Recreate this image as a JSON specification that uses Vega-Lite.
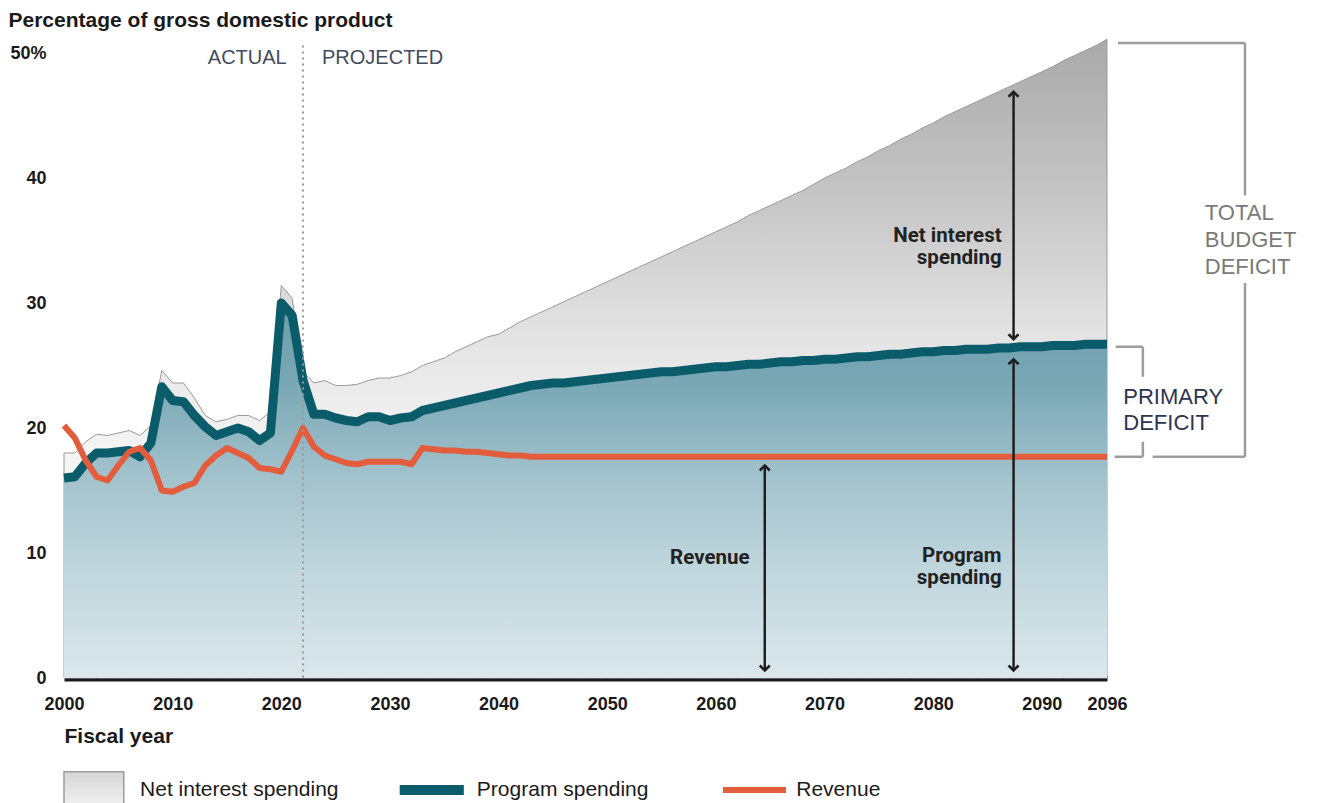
{
  "$schema": "https://vega.github.io/schema/vega-lite/v6.json",
  "autosize": {"type": "none"},
  "padding": {"left": 64, "top": 53, "right": 210, "bottom": 125},
  "width": 1043,
  "height": 625,
  "background": "white",
  "config": {
    "view": {"stroke": null},
    "axis": {"grid": false, "ticks": false},
    "font": "Liberation Sans"
  },
  "datasets": {
    "series": [
      {"x": 2000, "total": 18.0, "program": 16.0, "revenue": 20.2},
      {"x": 2001, "total": 18.0, "program": 16.1, "revenue": 19.2},
      {"x": 2002, "total": 18.9, "program": 17.2, "revenue": 17.4},
      {"x": 2003, "total": 19.5, "program": 18.0, "revenue": 16.1},
      {"x": 2004, "total": 19.4, "program": 18.0, "revenue": 15.8},
      {"x": 2005, "total": 19.6, "program": 18.1, "revenue": 17.0},
      {"x": 2006, "total": 19.8, "program": 18.2, "revenue": 18.1},
      {"x": 2007, "total": 19.4, "program": 17.7, "revenue": 18.4},
      {"x": 2008, "total": 20.2, "program": 18.8, "revenue": 17.4},
      {"x": 2009, "total": 24.6, "program": 23.3, "revenue": 15.0},
      {"x": 2010, "total": 23.6, "program": 22.2, "revenue": 14.9},
      {"x": 2011, "total": 23.6, "program": 22.1, "revenue": 15.3},
      {"x": 2012, "total": 22.4, "program": 21.0, "revenue": 15.6},
      {"x": 2013, "total": 21.0, "program": 20.1, "revenue": 17.0},
      {"x": 2014, "total": 20.5, "program": 19.4, "revenue": 17.8},
      {"x": 2015, "total": 20.7, "program": 19.7, "revenue": 18.4},
      {"x": 2016, "total": 21.0, "program": 20.0, "revenue": 18.0},
      {"x": 2017, "total": 21.0, "program": 19.7, "revenue": 17.6},
      {"x": 2018, "total": 20.6, "program": 19.0, "revenue": 16.8},
      {"x": 2019, "total": 21.3, "program": 19.6, "revenue": 16.7},
      {"x": 2020, "total": 31.4, "program": 30.0, "revenue": 16.5},
      {"x": 2021, "total": 30.4, "program": 29.0, "revenue": 18.2},
      {"x": 2022, "total": 24.5, "program": 23.8, "revenue": 20.0},
      {"x": 2023, "total": 23.6, "program": 21.1, "revenue": 18.5},
      {"x": 2024, "total": 23.8, "program": 21.1, "revenue": 17.8},
      {"x": 2025, "total": 23.4, "program": 20.8, "revenue": 17.5},
      {"x": 2026, "total": 23.4, "program": 20.6, "revenue": 17.2},
      {"x": 2027, "total": 23.5, "program": 20.5, "revenue": 17.1},
      {"x": 2028, "total": 23.8, "program": 20.9, "revenue": 17.3},
      {"x": 2029, "total": 24.0, "program": 20.9, "revenue": 17.3},
      {"x": 2030, "total": 24.0, "program": 20.6, "revenue": 17.3},
      {"x": 2031, "total": 24.2, "program": 20.8, "revenue": 17.3},
      {"x": 2032, "total": 24.5, "program": 20.9, "revenue": 17.1},
      {"x": 2033, "total": 25.0, "program": 21.4, "revenue": 18.4},
      {"x": 2034, "total": 25.3, "program": 21.6, "revenue": 18.3},
      {"x": 2035, "total": 25.6, "program": 21.8, "revenue": 18.2},
      {"x": 2036, "total": 26.1, "program": 22.0, "revenue": 18.2},
      {"x": 2037, "total": 26.5, "program": 22.2, "revenue": 18.1},
      {"x": 2038, "total": 26.9, "program": 22.4, "revenue": 18.1},
      {"x": 2039, "total": 27.3, "program": 22.6, "revenue": 18.0},
      {"x": 2040, "total": 27.5, "program": 22.8, "revenue": 17.9},
      {"x": 2041, "total": 28.0, "program": 23.0, "revenue": 17.8},
      {"x": 2042, "total": 28.5, "program": 23.2, "revenue": 17.8},
      {"x": 2043, "total": 28.9, "program": 23.4, "revenue": 17.7},
      {"x": 2044, "total": 29.3, "program": 23.5, "revenue": 17.7},
      {"x": 2045, "total": 29.7, "program": 23.6, "revenue": 17.7},
      {"x": 2046, "total": 30.1, "program": 23.6, "revenue": 17.7},
      {"x": 2047, "total": 30.5, "program": 23.7, "revenue": 17.7},
      {"x": 2048, "total": 30.9, "program": 23.8, "revenue": 17.7},
      {"x": 2049, "total": 31.3, "program": 23.9, "revenue": 17.7},
      {"x": 2050, "total": 31.7, "program": 24.0, "revenue": 17.7},
      {"x": 2051, "total": 32.1, "program": 24.1, "revenue": 17.7},
      {"x": 2052, "total": 32.5, "program": 24.2, "revenue": 17.7},
      {"x": 2053, "total": 32.9, "program": 24.3, "revenue": 17.7},
      {"x": 2054, "total": 33.3, "program": 24.4, "revenue": 17.7},
      {"x": 2055, "total": 33.7, "program": 24.5, "revenue": 17.7},
      {"x": 2056, "total": 34.1, "program": 24.5, "revenue": 17.7},
      {"x": 2057, "total": 34.5, "program": 24.6, "revenue": 17.7},
      {"x": 2058, "total": 34.9, "program": 24.7, "revenue": 17.7},
      {"x": 2059, "total": 35.3, "program": 24.8, "revenue": 17.7},
      {"x": 2060, "total": 35.7, "program": 24.9, "revenue": 17.7},
      {"x": 2061, "total": 36.1, "program": 24.9, "revenue": 17.7},
      {"x": 2062, "total": 36.5, "program": 25.0, "revenue": 17.7},
      {"x": 2063, "total": 37.0, "program": 25.1, "revenue": 17.7},
      {"x": 2064, "total": 37.4, "program": 25.1, "revenue": 17.7},
      {"x": 2065, "total": 37.8, "program": 25.2, "revenue": 17.7},
      {"x": 2066, "total": 38.2, "program": 25.3, "revenue": 17.7},
      {"x": 2067, "total": 38.6, "program": 25.3, "revenue": 17.7},
      {"x": 2068, "total": 39.0, "program": 25.4, "revenue": 17.7},
      {"x": 2069, "total": 39.5, "program": 25.4, "revenue": 17.7},
      {"x": 2070, "total": 40.0, "program": 25.5, "revenue": 17.7},
      {"x": 2071, "total": 40.4, "program": 25.5, "revenue": 17.7},
      {"x": 2072, "total": 40.8, "program": 25.6, "revenue": 17.7},
      {"x": 2073, "total": 41.3, "program": 25.7, "revenue": 17.7},
      {"x": 2074, "total": 41.7, "program": 25.7, "revenue": 17.7},
      {"x": 2075, "total": 42.2, "program": 25.8, "revenue": 17.7},
      {"x": 2076, "total": 42.6, "program": 25.9, "revenue": 17.7},
      {"x": 2077, "total": 43.1, "program": 25.9, "revenue": 17.7},
      {"x": 2078, "total": 43.5, "program": 26.0, "revenue": 17.7},
      {"x": 2079, "total": 44.0, "program": 26.1, "revenue": 17.7},
      {"x": 2080, "total": 44.4, "program": 26.1, "revenue": 17.7},
      {"x": 2081, "total": 44.9, "program": 26.2, "revenue": 17.7},
      {"x": 2082, "total": 45.3, "program": 26.2, "revenue": 17.7},
      {"x": 2083, "total": 45.7, "program": 26.3, "revenue": 17.7},
      {"x": 2084, "total": 46.1, "program": 26.3, "revenue": 17.7},
      {"x": 2085, "total": 46.5, "program": 26.3, "revenue": 17.7},
      {"x": 2086, "total": 46.9, "program": 26.4, "revenue": 17.7},
      {"x": 2087, "total": 47.3, "program": 26.4, "revenue": 17.7},
      {"x": 2088, "total": 47.7, "program": 26.5, "revenue": 17.7},
      {"x": 2089, "total": 48.1, "program": 26.5, "revenue": 17.7},
      {"x": 2090, "total": 48.5, "program": 26.5, "revenue": 17.7},
      {"x": 2091, "total": 48.9, "program": 26.6, "revenue": 17.7},
      {"x": 2092, "total": 49.4, "program": 26.6, "revenue": 17.7},
      {"x": 2093, "total": 49.8, "program": 26.6, "revenue": 17.7},
      {"x": 2094, "total": 50.2, "program": 26.7, "revenue": 17.7},
      {"x": 2095, "total": 50.6, "program": 26.7, "revenue": 17.7},
      {"x": 2096, "total": 51.1, "program": 26.7, "revenue": 17.7}
    ],
    "arrows": [
      {"x": 2064.5, "y": 17.0, "y2": 0.6},
      {"x": 2087.4, "y": 25.5, "y2": 0.6},
      {"x": 2087.4, "y": 46.9, "y2": 27.1}
    ],
    "heads": [
      {"x": 2064.5, "y": 17.0, "dir": "up"},
      {"x": 2064.5, "y": 0.6, "dir": "down"},
      {"x": 2087.4, "y": 25.5, "dir": "up"},
      {"x": 2087.4, "y": 0.6, "dir": "down"},
      {"x": 2087.4, "y": 46.9, "dir": "up"},
      {"x": 2087.4, "y": 27.1, "dir": "down"}
    ],
    "notes": [
      {"x": 2063.1, "y": 9.6, "label": ["Revenue"]},
      {"x": 2086.3, "y": 9.76, "label": ["Program", "spending"]},
      {"x": 2086.3, "y": 35.36, "label": ["Net interest", "spending"]}
    ],
    "brackets": [
      {"x": 2097.0, "x2": 2108.7, "y": 50.8, "y2": 50.8},
      {"x": 2108.7, "x2": 2108.7, "y": 50.8, "y2": 38.6},
      {"x": 2108.7, "x2": 2108.7, "y": 31.6, "y2": 17.7},
      {"x": 2108.7, "x2": 2100.2, "y": 17.7, "y2": 17.7},
      {"x": 2096.8, "x2": 2099.3, "y": 26.5, "y2": 26.5},
      {"x": 2099.3, "x2": 2099.3, "y": 26.5, "y2": 24.1},
      {"x": 2099.3, "x2": 2099.3, "y": 18.9, "y2": 17.7},
      {"x": 2099.3, "x2": 2096.7, "y": 17.7, "y2": 17.7}
    ],
    "bracketText": [
      {"x": 2105.0, "y": 37.2, "label": ["TOTAL", "BUDGET", "DEFICIT"], "grp": "total"},
      {"x": 2097.5, "y": 22.5, "label": ["PRIMARY", "DEFICIT"], "grp": "primary"}
    ],
    "period": [
      {"x": 2020.5, "y": 49.6, "label": "ACTUAL"},
      {"x": 2023.75, "y": 49.6, "label": "PROJECTED"}
    ],
    "divider": [{"x": 2022, "y": 50.6, "y2": 0}],
    "legendBox": [{"x": 2000.0, "x2": 2005.5, "y": -7.5, "y2": -10.6}],
    "legendLines": [
      {"x": 2030.9, "x2": 2036.8, "y": -8.96, "key": "Program spending"},
      {"x": 2060.65, "x2": 2066.45, "y": -8.96, "key": "Revenue"}
    ],
    "legendText": [
      {"x": 2007.0, "y": -8.96, "label": "Net interest spending"},
      {"x": 2038.0, "y": -8.96, "label": "Program spending"},
      {"x": 2067.4, "y": -8.96, "label": "Revenue"}
    ]
  },
  "encoding": {
    "x": {
      "field": "x", "type": "quantitative",
      "scale": {"domain": [2000, 2096], "nice": false, "zero": false},
      "axis": {
        "values": [2000, 2010, 2020, 2030, 2040, 2050, 2060, 2070, 2080, 2090, 2096],
        "format": "d",
        "labelFont": "Liberation Sans", "labelFontWeight": "bold", "labelFontSize": 18,
        "labelColor": "#1a1a1a", "labelPadding": 17, "labelOverlap": false, "labelFlush": false,
        "domain": true, "domainColor": "#1c1c1c", "domainWidth": 6,
        "title": "Fiscal year", "titleFont": "Liberation Sans", "titleFontWeight": "bold",
        "titleFontSize": 21, "titleColor": "#1a1a1a", "titleAlign": "left", "titleAnchor": "start",
        "titleBaseline": "alphabetic", "titleX": 0, "titleY": 64
      }
    },
    "y": {
      "field": "y", "type": "quantitative",
      "scale": {"domain": [0, 50], "nice": false},
      "axis": {
        "values": [0, 10, 20, 30, 40, 50],
        "labelExpr": "datum.value == 50 ? '50%' : datum.label",
        "labelFont": "Liberation Sans", "labelFontWeight": "bold", "labelFontSize": 18,
        "labelColor": "#1a1a1a", "labelPadding": 18, "labelFlush": false, "labelOverlap": false,
        "domain": false,
        "title": "Percentage of gross domestic product", "titleFont": "Liberation Sans",
        "titleFontWeight": "bold", "titleFontSize": 21, "titleColor": "#1a1a1a",
        "titleAngle": 0, "titleAlign": "left", "titleBaseline": "alphabetic",
        "titleX": -56, "titleY": -27
      }
    }
  },
  "layer": [
    {
      "data": {"name": "series"},
      "transform": [
        {"fold": ["total", "program", "revenue"], "as": ["key", "y"]},
        {"filter": "datum.key == 'total'"}
      ],
      "mark": {
        "type": "area",
        "stroke": "#9a9a9a",
        "strokeWidth": 1,
        "fill": {
          "gradient": "linear", "x1": 0, "y1": 0, "x2": 0, "y2": 1,
          "stops": [
            {"offset": 0, "color": "#a9a9a9"},
            {"offset": 0.25, "color": "#c6c6c6"},
            {"offset": 0.47, "color": "#e4e4e4"},
            {"offset": 0.64, "color": "#f4f4f4"},
            {"offset": 1, "color": "#ffffff"}
          ]
        }
      }
    },
    {
      "data": {"name": "series"},
      "transform": [
        {"fold": ["total", "program", "revenue"], "as": ["key", "y"]},
        {"filter": "datum.key == 'program'"}
      ],
      "mark": {
        "type": "area",
        "fill": {
          "gradient": "linear", "x1": 0, "y1": 0, "x2": 0, "y2": 1,
          "stops": [
            {"offset": 0, "color": "#6b9bab"},
            {"offset": 0.22, "color": "#7aa8b5"},
            {"offset": 0.45, "color": "#a0c1cb"},
            {"offset": 0.7, "color": "#bfd5dc"},
            {"offset": 1, "color": "#dbe7eb"}
          ]
        }
      }
    },
    {
      "data": {"name": "series"},
      "transform": [
        {"fold": ["total", "program", "revenue"], "as": ["key", "y"]},
        {"filter": "datum.key == 'program'"}
      ],
      "mark": {"type": "line", "stroke": "#0b5c6b", "strokeWidth": 9, "strokeJoin": "round"}
    },
    {
      "data": {"name": "series"},
      "transform": [
        {"fold": ["total", "program", "revenue"], "as": ["key", "y"]},
        {"filter": "datum.key == 'revenue'"}
      ],
      "mark": {"type": "line", "stroke": "#e35c3b", "strokeWidth": 6, "strokeJoin": "round"}
    },
    {
      "data": {"name": "divider"},
      "mark": {"type": "rule", "stroke": "#9a9a9a", "strokeWidth": 2, "strokeDash": [2, 4]},
      "encoding": {"y2": {"field": "y2"}}
    },
    {
      "data": {"name": "period"},
      "transform": [{"filter": "datum.label == 'ACTUAL'"}],
      "mark": {"type": "text", "font": "Liberation Sans", "fontSize": 20, "color": "#454b60", "baseline": "middle", "align": "right"},
      "encoding": {"text": {"field": "label"}}
    },
    {
      "data": {"name": "period"},
      "transform": [{"filter": "datum.label == 'PROJECTED'"}],
      "mark": {"type": "text", "font": "Liberation Sans", "fontSize": 20, "color": "#454b60", "baseline": "middle", "align": "left"},
      "encoding": {"text": {"field": "label"}}
    },
    {
      "data": {"name": "arrows"},
      "mark": {"type": "rule", "stroke": "#1f1f1f", "strokeWidth": 2.5},
      "encoding": {"y2": {"field": "y2"}}
    },
    {
      "data": {"name": "heads"},
      "mark": {"type": "point", "filled": false, "stroke": "#1f1f1f", "strokeWidth": 2.5, "size": 100, "opacity": 1, "strokeJoin": "miter"},
      "encoding": {
        "shape": {
          "field": "dir", "type": "nominal", "legend": null,
          "scale": {"domain": ["up", "down"], "range": ["M-1,1L0,0L1,1", "M-1,-1L0,0L1,-1"]}
        }
      }
    },
    {
      "data": {"name": "notes"},
      "mark": {"type": "text", "font": "Roboto", "fontWeight": "bold", "fontSize": 20.5, "lineHeight": 22, "align": "right", "baseline": "middle", "color": "#222222"},
      "encoding": {"text": {"field": "label"}}
    },
    {
      "data": {"name": "brackets"},
      "mark": {"type": "rule", "strokeWidth": 2.5, "stroke": "#9d9d9d"},
      "encoding": {"x2": {"field": "x2"}, "y2": {"field": "y2"}}
    },
    {
      "data": {"name": "bracketText"},
      "transform": [{"filter": "datum.grp == 'total'"}],
      "mark": {"type": "text", "font": "Liberation Sans", "fontSize": 22, "lineHeight": 27, "align": "left", "baseline": "middle", "color": "#7a7a7a"},
      "encoding": {"text": {"field": "label"}}
    },
    {
      "data": {"name": "bracketText"},
      "transform": [{"filter": "datum.grp == 'primary'"}],
      "mark": {"type": "text", "font": "Liberation Sans", "fontSize": 22, "lineHeight": 26.5, "align": "left", "baseline": "middle", "color": "#2d3450"},
      "encoding": {"text": {"field": "label"}}
    },
    {
      "data": {"name": "legendBox"},
      "mark": {
        "type": "rect", "stroke": "#9b9b9b", "strokeWidth": 1.5,
        "fill": {
          "gradient": "linear", "x1": 0, "y1": 0, "x2": 0, "y2": 1,
          "stops": [
            {"offset": 0, "color": "#d6d6d6"},
            {"offset": 1, "color": "#f4f4f4"}
          ]
        }
      },
      "encoding": {"x2": {"field": "x2"}, "y2": {"field": "y2"}}
    },
    {
      "data": {"name": "legendLines"},
      "transform": [{"filter": "datum.key == 'Program spending'"}],
      "mark": {"type": "rule", "stroke": "#0b5c6b", "strokeWidth": 10},
      "encoding": {"x2": {"field": "x2"}}
    },
    {
      "data": {"name": "legendLines"},
      "transform": [{"filter": "datum.key == 'Revenue'"}],
      "mark": {"type": "rule", "stroke": "#e35c3b", "strokeWidth": 6},
      "encoding": {"x2": {"field": "x2"}}
    },
    {
      "data": {"name": "legendText"},
      "mark": {"type": "text", "font": "Liberation Sans", "fontSize": 21, "align": "left", "baseline": "middle", "color": "#1a1a1a"},
      "encoding": {"text": {"field": "label"}}
    }
  ]
}
